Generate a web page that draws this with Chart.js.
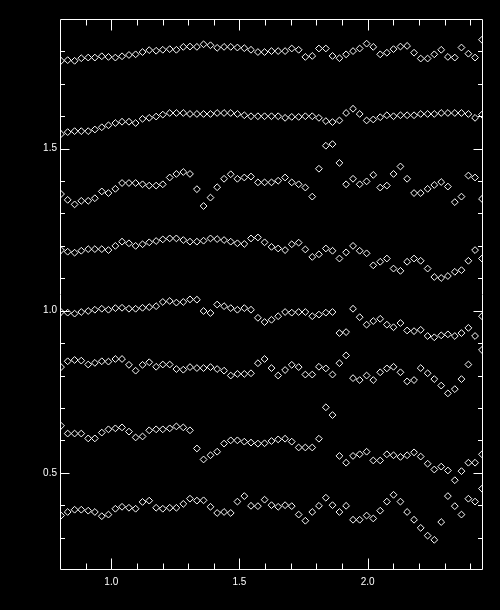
<!DOCTYPE html>
<html>
<head>
<meta charset="utf-8">
<script src="https://cdn.jsdelivr.net/npm/chart.js@4.4.1/dist/chart.umd.min.js"></script>
<style>
  html, body { margin: 0; padding: 0; background: #000; }
  canvas { display: block; }
</style>
</head>
<body>
<canvas id="plot" width="500" height="610"></canvas>
<script>
// sample positions (shared by every row of points)
var xValues = [
    0.804, 0.830, 0.857, 0.883, 0.910, 0.936, 0.963, 0.989, 1.016, 1.042,
    1.069, 1.095, 1.122, 1.148, 1.175, 1.201, 1.228, 1.254, 1.281, 1.307,
    1.334, 1.360, 1.387, 1.413, 1.440, 1.466, 1.492, 1.519, 1.545, 1.572,
    1.598, 1.625, 1.651, 1.678, 1.704, 1.731, 1.757, 1.784, 1.810, 1.837,
    1.863, 1.890, 1.916, 1.943, 1.969, 1.996, 2.022, 2.049, 2.075, 2.101,
    2.128, 2.154, 2.181, 2.207, 2.234, 2.260, 2.287, 2.313, 2.340, 2.366,
    2.393, 2.419, 2.446
];

// rows, top to bottom
var row1 = [
    1.771, 1.773, 1.771, 1.779, 1.781, 1.781, 1.785, 1.783, 1.781, 1.785,
    1.789, 1.791, 1.798, 1.804, 1.802, 1.805, 1.807, 1.805, 1.814, 1.815,
    1.814, 1.822, 1.819, 1.811, 1.814, 1.814, 1.812, 1.810, 1.805, 1.798,
    1.798, 1.801, 1.801, 1.801, 1.809, 1.805, 1.783, 1.786, 1.809, 1.809,
    1.786, 1.779, 1.791, 1.801, 1.809, 1.824, 1.814, 1.791, 1.796, 1.807,
    1.815, 1.817, 1.796, 1.778, 1.778, 1.791, 1.805, 1.783, 1.781, 1.812,
    1.793, 1.781, 1.836
];
var row2 = [
    1.545, 1.551, 1.554, 1.554, 1.554, 1.559, 1.566, 1.572, 1.579, 1.583,
    1.583, 1.579, 1.592, 1.595, 1.599, 1.605, 1.610, 1.610, 1.610, 1.607,
    1.607, 1.607, 1.607, 1.610, 1.610, 1.610, 1.607, 1.603, 1.600, 1.600,
    1.600, 1.600, 1.600, 1.595, 1.598, 1.598, 1.600, 1.600, 1.595, 1.585,
    1.582, 1.587, 1.610, 1.623, 1.607, 1.587, 1.590, 1.597, 1.603, 1.600,
    1.603, 1.603, 1.603, 1.607, 1.607, 1.607, 1.610, 1.610, 1.610, 1.610,
    1.607, 1.595, 1.605
];
var row3 = [
    1.360, 1.342, 1.328, 1.339, 1.339, 1.347, 1.368, 1.363, 1.376, 1.394,
    1.394, 1.394, 1.390, 1.386, 1.386, 1.390, 1.411, 1.422, 1.428, 1.422,
    1.375, 1.323, 1.349, 1.381, 1.407, 1.421, 1.407, 1.411, 1.414, 1.396,
    1.396, 1.396, 1.401, 1.411, 1.396, 1.390, 1.380, 1.352, 1.438, 1.509,
    1.514, 1.456, 1.390, 1.407, 1.390, 1.399, 1.419, 1.380, 1.386, 1.422,
    1.445, 1.407, 1.363, 1.363, 1.376, 1.388, 1.397, 1.383, 1.335, 1.352,
    1.417, 1.411, 1.345
];
var row4 = [
    1.187, 1.182, 1.179, 1.185, 1.190, 1.190, 1.190, 1.187, 1.200, 1.213,
    1.208, 1.200, 1.205, 1.211, 1.215, 1.220, 1.223, 1.223, 1.218, 1.213,
    1.213, 1.216, 1.223, 1.221, 1.218, 1.213, 1.208, 1.206, 1.223, 1.226,
    1.211, 1.197, 1.192, 1.187, 1.205, 1.210, 1.189, 1.166, 1.174, 1.192,
    1.185, 1.161, 1.180, 1.200, 1.185, 1.177, 1.140, 1.151, 1.161, 1.130,
    1.123, 1.151, 1.161, 1.154, 1.130, 1.104, 1.101, 1.107, 1.120, 1.125,
    1.154, 1.187, 1.161
];
var row5 = [
    0.996, 0.994, 0.991, 0.996, 0.999, 1.003, 1.006, 1.003, 1.008, 1.009,
    1.006, 1.006, 1.009, 1.011, 1.014, 1.027, 1.030, 1.025, 1.027, 1.035,
    1.034, 0.999, 0.993, 1.019, 1.014, 1.008, 1.003, 1.008, 1.003, 0.978,
    0.965, 0.972, 0.983, 0.996, 0.994, 0.996, 0.996, 0.983, 0.988, 0.994,
    0.996, 0.931, 0.934, 1.006, 0.980, 0.957, 0.968, 0.975, 0.957, 0.949,
    0.962, 0.939, 0.937, 0.941, 0.922, 0.918, 0.924, 0.927, 0.922, 0.931,
    0.947, 0.922, 0.983
];
var row6 = [
    0.826, 0.844, 0.848, 0.846, 0.834, 0.839, 0.844, 0.843, 0.851, 0.851,
    0.833, 0.815, 0.833, 0.841, 0.827, 0.834, 0.834, 0.820, 0.818, 0.826,
    0.823, 0.823, 0.826, 0.820, 0.815, 0.800, 0.805, 0.805, 0.807, 0.838,
    0.851, 0.823, 0.800, 0.817, 0.833, 0.826, 0.803, 0.803, 0.827, 0.822,
    0.803, 0.838, 0.862, 0.792, 0.786, 0.800, 0.786, 0.810, 0.822, 0.827,
    0.810, 0.782, 0.786, 0.823, 0.807, 0.789, 0.769, 0.745, 0.758, 0.789,
    0.834, null, 0.879
];
var row7 = [
    0.645, 0.621, 0.621, 0.621, 0.606, 0.606, 0.624, 0.634, 0.637, 0.640,
    0.627, 0.609, 0.612, 0.631, 0.634, 0.634, 0.637, 0.643, 0.640, 0.631,
    0.575, 0.541, 0.554, 0.565, 0.590, 0.600, 0.600, 0.596, 0.593, 0.590,
    0.591, 0.598, 0.603, 0.605, 0.596, 0.578, 0.578, 0.578, 0.605, 0.702,
    0.678, 0.552, 0.531, 0.552, 0.557, 0.565, 0.538, 0.538, 0.557, 0.554,
    0.549, 0.554, 0.563, 0.550, 0.528, 0.510, 0.519, 0.507, 0.477, 0.505,
    0.531, 0.531, 0.557
];
var row8 = [
    0.368, 0.379, 0.386, 0.386, 0.383, 0.379, 0.366, 0.371, 0.389, 0.395,
    0.392, 0.389, 0.410, 0.414, 0.392, 0.389, 0.392, 0.392, 0.404, 0.420,
    0.414, 0.415, 0.395, 0.376, 0.379, 0.376, 0.411, 0.428, 0.398, 0.397,
    0.417, 0.400, 0.395, 0.400, 0.397, 0.371, 0.352, 0.379, 0.398, 0.423,
    0.400, 0.379, 0.398, 0.355, 0.355, 0.368, 0.359, 0.383, 0.411, 0.432,
    0.411, 0.379, 0.355, 0.330, 0.306, 0.293, 0.348, 0.428, 0.397, 0.371,
    0.420, 0.411, 0.451
];

var xMajorTicks = [1.0, 1.5, 2.0];
var xMinorTicks = [0.9, 1.1, 1.2, 1.3, 1.4, 1.6, 1.7, 1.8, 1.9, 2.1, 2.2, 2.3, 2.4];
var yMajorTicks = [0.5, 1.0, 1.5];
var yMinorTicks = [0.3, 0.4, 0.6, 0.7, 0.8, 0.9, 1.1, 1.2, 1.3, 1.4, 1.6, 1.7, 1.8];

function toPoints(values) {
    return values.map(function (v, i) {
        return { x: xValues[i], y: v };
    });
}

// box round the plot with inward ticks on all four sides
var frameTicks = {
    id: 'frameTicks',
    afterDatasetsDraw: function (chart) {
        var ctx = chart.ctx;
        var area = chart.chartArea;
        var xs = chart.scales.x, ys = chart.scales.y;
        var l = area.left + 0.5, r = area.right - 0.5;
        var t = area.top + 0.5, b = area.bottom - 0.5;

        ctx.save();
        ctx.strokeStyle = '#fff';
        ctx.lineWidth = 1;
        ctx.beginPath();
        ctx.rect(l, t, r - l, b - t);

        function xTick(v, len) {
            var px = Math.round(xs.getPixelForValue(v)) + 0.5;
            ctx.moveTo(px, b); ctx.lineTo(px, b - len);
            ctx.moveTo(px, t); ctx.lineTo(px, t + len);
        }
        function yTick(v, len) {
            var py = Math.round(ys.getPixelForValue(v)) + 0.5;
            ctx.moveTo(l, py); ctx.lineTo(l + len, py);
            ctx.moveTo(r, py); ctx.lineTo(r - len, py);
        }
        xMajorTicks.forEach(function (v) { xTick(v, 11); });
        xMinorTicks.forEach(function (v) { xTick(v, 6); });
        yMajorTicks.forEach(function (v) { yTick(v, 9); });
        yMinorTicks.forEach(function (v) { yTick(v, 4.5); });
        ctx.stroke();
        ctx.restore();
    }
};

var rows = [row1, row2, row3, row4, row5, row6, row7, row8];

var labelFont = { family: 'Liberation Sans', size: 10 };

new Chart(document.getElementById('plot').getContext('2d'), {
    type: 'scatter',
    data: {
        datasets: rows.map(function (row) {
            return {
                data: toPoints(row),
                pointStyle: 'rectRot',
                pointRadius: 3.4,
                borderWidth: 1,
                borderColor: '#fff',
                backgroundColor: 'rgba(0,0,0,0)',
                showLine: false,
                clip: 0
            };
        })
    },
    options: {
        responsive: false,
        animation: false,
        events: [],
        layout: {
            autoPadding: false,
            padding: { top: 19, right: 17, left: 0, bottom: 0 }
        },
        plugins: {
            legend: { display: false },
            tooltip: { enabled: false }
        },
        scales: {
            x: {
                type: 'linear',
                min: 0.8,
                max: 2.45,
                grid: { display: false, drawTicks: false },
                border: { display: false },
                ticks: {
                    color: '#fff',
                    font: labelFont,
                    padding: 6,
                    maxRotation: 0,
                    callback: function (v) { return v.toFixed(1); }
                },
                afterBuildTicks: function (scale) {
                    scale.ticks = xMajorTicks.map(function (v) { return { value: v }; });
                },
                afterFit: function (scale) { scale.height = 40; }
            },
            y: {
                type: 'linear',
                min: 0.2,
                max: 1.9,
                grid: { display: false, drawTicks: false },
                border: { display: false },
                ticks: {
                    color: '#fff',
                    font: labelFont,
                    padding: 3,
                    callback: function (v) { return v.toFixed(1); }
                },
                afterBuildTicks: function (scale) {
                    scale.ticks = yMajorTicks.map(function (v) { return { value: v }; });
                },
                afterFit: function (scale) { scale.width = 60; }
            }
        }
    },
    plugins: [frameTicks]
});
</script>
</body>
</html>
